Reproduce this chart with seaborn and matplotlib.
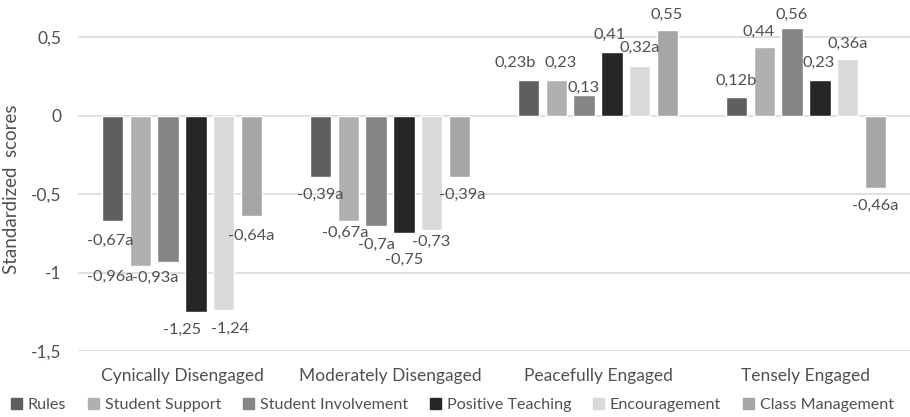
import matplotlib
matplotlib.use("Agg")
import matplotlib.pyplot as plt
import seaborn as sns
import pandas as pd

# Cluster profiles and teaching-practice dimensions
profiles = ["Cynically Disengaged", "Moderately Disengaged", "Peacefully Engaged", "Tensely Engaged"]
dimensions = ["Rules", "Student Support", "Student Involvement",
              "Positive Teaching", "Encouragement", "Class Management"]

# Standardized scores per dimension (one list per dimension, in profile order)
rules = [-0.67, -0.39, 0.23, 0.12]
student_support = [-0.96, -0.67, 0.23, 0.44]
student_involvement = [-0.93, -0.70, 0.13, 0.56]
positive_teaching = [-1.25, -0.75, 0.41, 0.23]
encouragement = [-1.24, -0.73, 0.32, 0.36]
class_management = [-0.64, -0.39, 0.55, -0.46]

# Significance-letter suffixes shown after each value
rules_sig = ["a", "a", "b", "b"]
student_support_sig = ["a", "a", "", ""]
student_involvement_sig = ["a", "a", "", ""]
positive_teaching_sig = ["", "", "", ""]
encouragement_sig = ["", "", "a", "a"]
class_management_sig = ["a", "a", "", "a"]

series = [rules, student_support, student_involvement,
          positive_teaching, encouragement, class_management]
suffixes = [rules_sig, student_support_sig, student_involvement_sig,
            positive_teaching_sig, encouragement_sig, class_management_sig]

rows = []
for dim, vals in zip(dimensions, series):
    for prof, v in zip(profiles, vals):
        rows.append({"Profile": prof, "Dimension": dim, "Score": v})
df = pd.DataFrame(rows)

palette = ["#5f5f5f", "#b0b0b0", "#858585", "#262626", "#d9d9d9", "#a6a6a6"]

# Label nudges in pixels (dx right, dy down) per dimension, per profile
label_dx = [
    [-2, 0, -13, 0],
    [-30, -3, 4, -6],
    [-13, 0, -1, -1],
    [-14, 0, -2, -1],
    [6, 0, 0, 0],
    [0, 3, -1, 0],
]
label_dy = [
    [20, 18, -17, -16],
    [11, 12, -17, -15],
    [16, 19, -8, -13],
    [18, 26, -17, -17],
    [19, 12, -18, -16],
    [20, 18, -15, 18],
]

sns.set_theme(style="white")
plt.rcParams["font.family"] = ["Lato", "DejaVu Sans"]
text_color = "#505050"

fig = plt.figure(figsize=(9.10, 4.17), dpi=100)
ax = fig.add_axes([0.0857, 0.1583, 0.9143, 0.8345])

sns.barplot(data=df, x="Profile", y="Score", hue="Dimension",
            order=profiles, hue_order=dimensions, palette=palette,
            width=0.8, gap=0.22, saturation=1, errorbar=None,
            legend=True, ax=ax, zorder=3)

ax.set_ylim(-1.5, 0.72)
ax.set_xlim(-0.5, 3.5)
yt = [0.5, 0, -0.5, -1, -1.5]
ax.set_yticks(yt)
ax.set_yticklabels([("%g" % t).replace(".", ",") for t in yt])
ax.grid(axis="y", color="#d9d9d9", linewidth=1.2, zorder=0)
ax.grid(axis="x", visible=False)
for sp in ax.spines.values():
    sp.set_visible(False)
ax.tick_params(axis="both", length=0, colors=text_color, labelsize=12.5)
ax.tick_params(axis="x", pad=12)
ax.tick_params(axis="y", pad=12)
ax.set_xlabel("")
ax.set_ylabel("Standardized  scores", color=text_color, fontsize=13.5)
ax.yaxis.set_label_coords(-0.07, 0.465)

# Value labels
for si, cont in enumerate(ax.containers):
    for gi, patch in enumerate(cont.patches):
        v = series[si][gi]
        x = patch.get_x() + patch.get_width() / 2
        if v >= 0:
            y = max(patch.get_y(), patch.get_y() + patch.get_height())
        else:
            y = min(patch.get_y(), patch.get_y() + patch.get_height())
        txt = ("%g" % v).replace(".", ",") + suffixes[si][gi]
        ax.annotate(txt, (x, y),
                    xytext=(label_dx[si][gi], -label_dy[si][gi]),
                    textcoords="offset pixels", ha="center", va="center",
                    fontsize=11.8, color=text_color, zorder=5)

ax.legend_.remove()
handles = [plt.Rectangle((0, 0), 1, 1, color=c) for c in palette]
leg = fig.legend(handles, dimensions, loc="center", bbox_to_anchor=(0.497, 0.028),
                 ncol=6, frameon=False, fontsize=11.6, handlelength=0.7,
                 handleheight=0.7, handletextpad=0.35, columnspacing=1.35)
for t in leg.get_texts():
    t.set_color(text_color)

fig.savefig("out.png", dpi=100)
